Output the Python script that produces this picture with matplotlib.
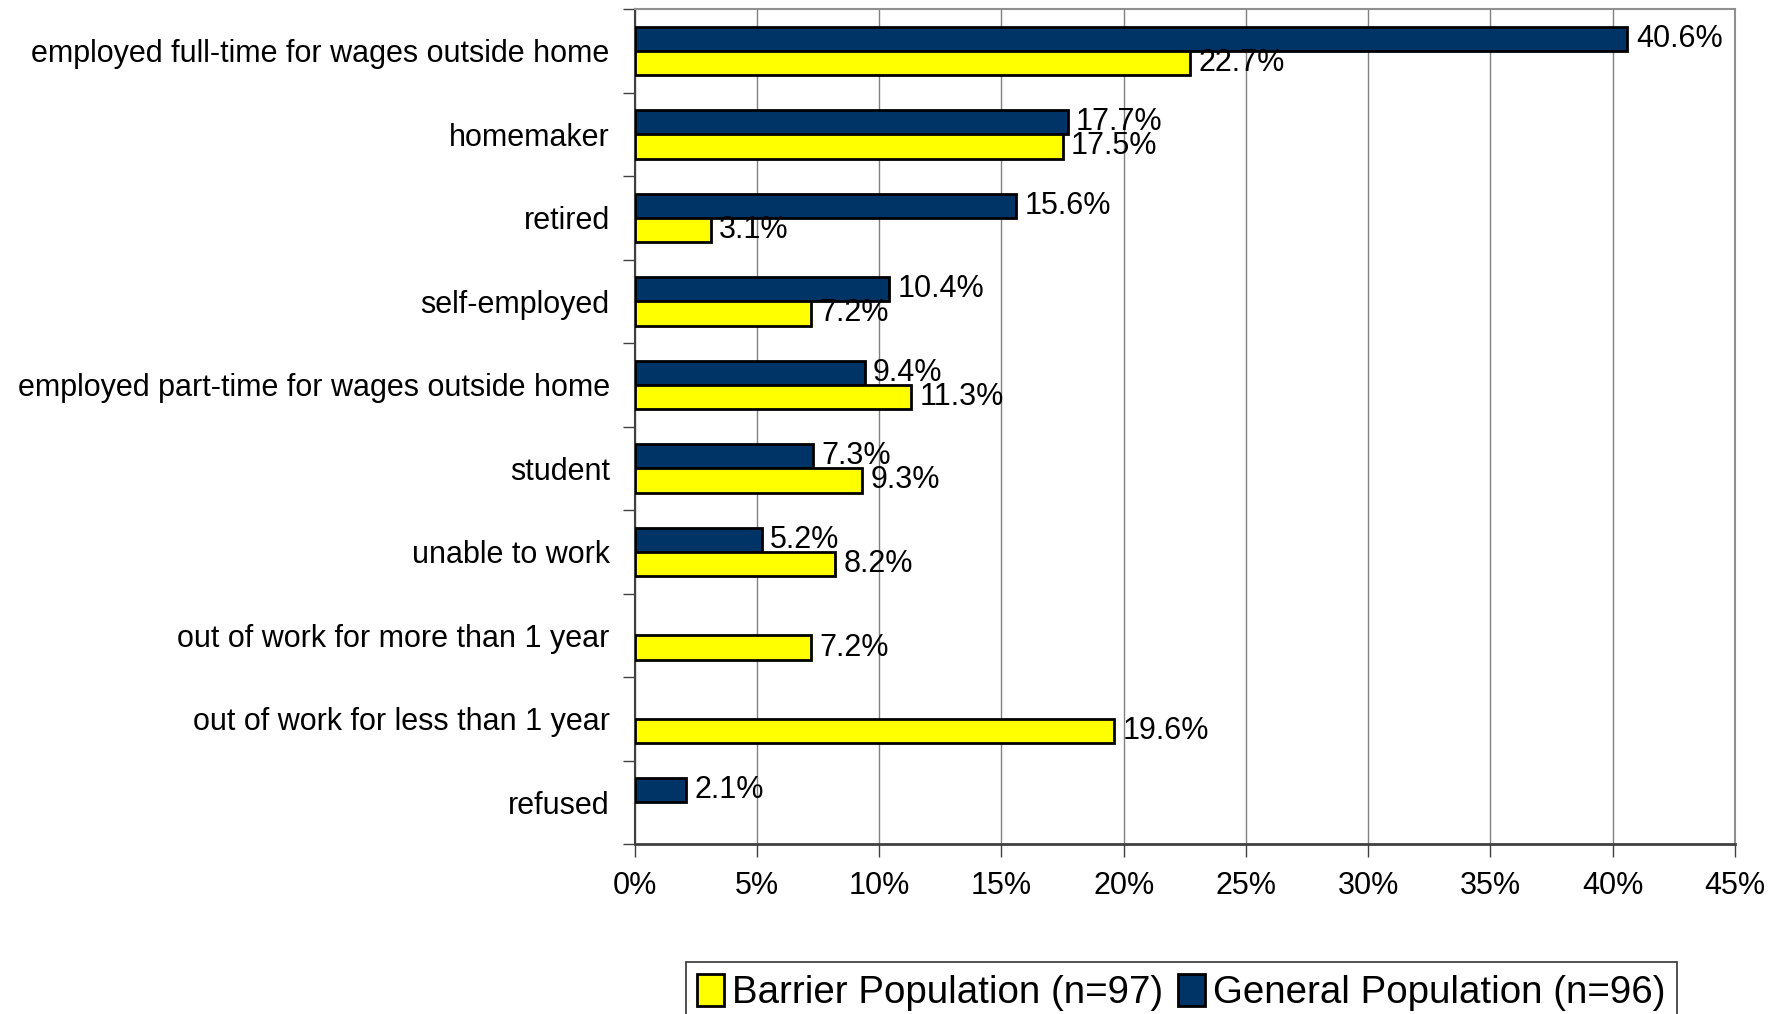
import matplotlib.pyplot as plt
import numpy as np

plt.rcParams['font.family'] = ['Liberation Sans', 'DejaVu Sans']

categories = ['employed full-time for wages outside home', 'homemaker', 'retired',
              'self-employed', 'employed part-time for wages outside home', 'student',
              'unable to work', 'out of work for more than 1 year',
              'out of work for less than 1 year', 'refused']
barrier = [22.7, 17.5, 3.1, 7.2, 11.3, 9.3, 8.2, 7.2, 19.6, 0]
general = [40.6, 17.7, 15.6, 10.4, 9.4, 7.3, 5.2, 0, 0, 2.1]
xticks = [0, 5, 10, 15, 20, 25, 30, 35, 40, 45]

navy = '#003366'
yellow = '#ffff00'

fig = plt.figure(figsize=(17.87, 10.14), dpi=100)
ax = fig.add_axes([0.3552, 0.1675, 0.6157, 0.8235])

y = np.arange(len(categories))
h = 0.29
b_gen = ax.barh(y - h / 2, general, height=h, color=navy, edgecolor='black',
                linewidth=2, label='General Population (n=96)', zorder=3)
b_bar = ax.barh(y + h / 2, barrier, height=h, color=yellow, edgecolor='black',
                linewidth=2, label='Barrier Population (n=97)', zorder=3)

for bars, vals in [(b_gen, general), (b_bar, barrier)]:
    for rect, v in zip(bars, vals):
        if v > 0:
            ax.annotate(f'{v:.1f}%', (v, rect.get_y() + rect.get_height() / 2),
                        xytext=(6, 0), textcoords='offset points',
                        va='center', ha='left', fontsize=22, zorder=4)
        else:
            # no bar for empty answers
            rect.set_visible(False)

ax.set_xlim(0, 45)
ax.set_ylim(len(categories) - 0.5, -0.5)
ax.set_xticks(xticks)
ax.set_xticklabels([f'{t}%' for t in xticks], fontsize=22)
ax.tick_params(axis='x', length=9, width=1, color='#404040', pad=10)
ax.set_yticks(y)
ax.set_yticklabels(categories, fontsize=22)
ax.tick_params(axis='y', which='major', length=0, pad=18)
ax.set_yticks(np.arange(-0.5, len(categories) + 0.5, 1), minor=True)
ax.tick_params(axis='y', which='minor', length=9, width=1, color='#404040')

ax.grid(axis='x', color='#808080', linewidth=1, zorder=0)
for s in ['top', 'right']:
    ax.spines[s].set_color('#909090')
    ax.spines[s].set_linewidth(1.5)
ax.spines['left'].set_color('#404040')
ax.spines['bottom'].set_color('#404040')
ax.spines['left'].set_linewidth(1.5)
ax.spines['bottom'].set_linewidth(2)

handles = [b_bar, b_gen]
leg = fig.legend(handles, [hd.get_label() for hd in handles], loc='upper center',
                 bbox_to_anchor=(0.661, 0.051), ncol=2, fontsize=27.7,
                 frameon=True, fancybox=False, edgecolor='black',
                 handlelength=0.7, handleheight=0.9, handletextpad=0.2,
                 columnspacing=0.4, borderpad=0.3, borderaxespad=0)
leg.get_frame().set_linewidth(1.2)

fig.savefig('out.png', dpi=100)
